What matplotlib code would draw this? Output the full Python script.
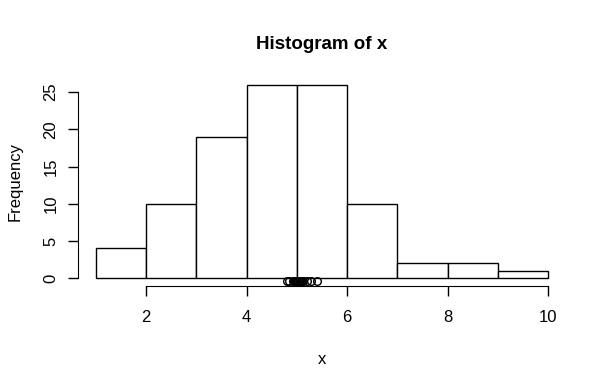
import numpy as np
import matplotlib
matplotlib.use('Agg')
from matplotlib import pyplot as plt

plt.rcParams['font.family'] = ['Liberation Sans', 'DejaVu Sans']

# bins and counts of the histogram
edges = [1, 2, 3, 4, 5, 6, 7, 8, 9, 10]
counts = [4, 10, 19, 26, 26, 10, 2, 2, 1]

# points drawn just under the baseline
pts = [4.81, 4.85, 4.93, 4.95, 4.97, 4.99, 5.0, 5.02, 5.04, 5.06,
       5.08, 5.1, 5.12, 5.2, 5.28, 5.4]
pts_y = -0.4

xticks = [2, 4, 6, 8, 10]
yticks = [0, 5, 10, 15, 20, 25]

fig = plt.figure(figsize=(6.07, 3.84), dpi=100)
ax = fig.add_axes([78/607, 1-286/384, 488/607, 209/384])

ax.bar(edges[:-1], counts, width=np.diff(edges), align='edge',
       color='white', edgecolor='black', linewidth=1)
ax.plot(pts, [pts_y]*len(pts), 'o', mfc='none', mec='black', ms=5.5, mew=1)

ax.set_xlim(0.64, 10.36)
ax.set_ylim(-1.04, 27.04)
for s in ['top', 'right']:
    ax.spines[s].set_visible(False)
ax.spines['bottom'].set_bounds(2, 10)
ax.spines['left'].set_bounds(0, 25)
ax.set_xticks(xticks)
ax.set_yticks(yticks)
ax.set_yticklabels([str(v) for v in yticks], rotation=90, va='center')
ax.tick_params(length=7, width=1, labelsize=12, pad=4)
ax.tick_params(axis='x', pad=10)
ax.tick_params(axis='y', pad=7)

ax.set_xlabel('x', fontsize=12, labelpad=20)
ax.set_ylabel('Frequency', fontsize=12, labelpad=15)
ax.set_title('Histogram of x', fontsize=13.5, fontweight='bold', pad=20)

fig.savefig('out.png', dpi=100)
